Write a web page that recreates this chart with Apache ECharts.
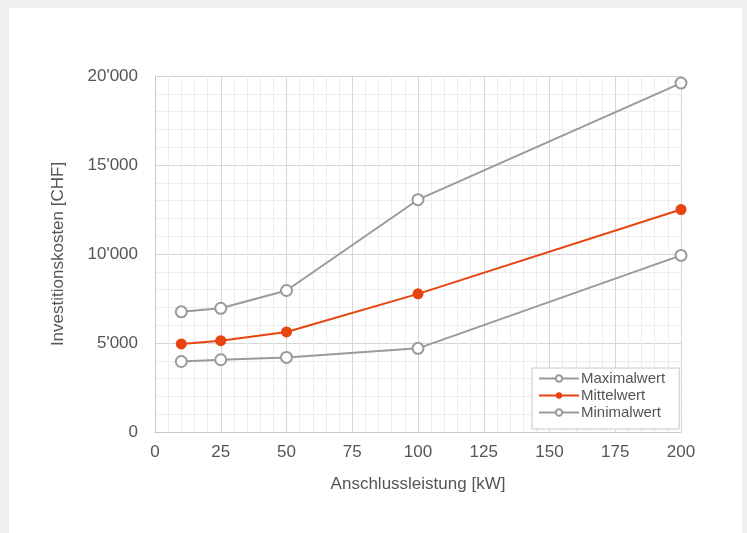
<!DOCTYPE html>
<html>
<head>
<meta charset="utf-8">
<script src="https://cdn.jsdelivr.net/npm/echarts@6/dist/echarts.min.js"></script>
<style>
html,body{margin:0;padding:0;background:#efefef;}
#chart{width:747px;height:533px;}
</style>
</head>
<body>
<div id="chart"></div>
<script>
const kw = [10, 25, 50, 100, 200];
const maximalwert = [6750, 6950, 7950, 13050, 19600];
const mittelwert = [4950, 5130, 5620, 7760, 12500];
const minimalwert = [3960, 4060, 4190, 4700, 9920];
const seriesNames = ['Maximalwert', 'Mittelwert', 'Minimalwert'];
const xTitle = 'Anschlussleistung [kW]';
const yTitle = 'Investitionskosten [CHF]';

function pairs(xs, ys) { return xs.map((x, i) => [x, ys[i]]); }
function fmt(v) { return String(v).replace(/\B(?=(\d{3})+(?!\d))/g, "'"); }

const chart = echarts.init(document.getElementById('chart'));
const font = 'Liberation Sans, Arial, sans-serif';
const gray = '#9a9a9a';
const orange = '#e8440f';

function lineSeries(name, data, color, filled) {
  return {
    name: name, type: 'line', data: data,
    symbol: 'circle', symbolSize: 11,
    lineStyle: { color: color, width: 2 },
    itemStyle: { color: filled ? color : '#fff', borderColor: color, borderWidth: filled ? 0 : 2 },
    emphasis: { disabled: true },
    z: filled ? 3 : 2
  };
}

chart.setOption({
  backgroundColor: '#efefef',
  animation: false,
  graphic: [{
    type: 'rect', z: -10, silent: true,
    shape: { x: 9, y: 8, width: 733, height: 530 },
    style: { fill: '#ffffff' }
  }],
  grid: { left: 155, right: 66, top: 76, bottom: 101 },
  xAxis: {
    type: 'value', min: 0, max: 200, interval: 25,
    name: xTitle, nameLocation: 'middle', nameGap: 44,
    nameTextStyle: { fontFamily: font, fontSize: 17, color: '#555' },
    axisLine: { show: true, lineStyle: { color: '#c8c8c8', width: 1 } },
    axisTick: { show: false },
    axisLabel: { fontFamily: font, fontSize: 17, color: '#555', margin: 12 },
    splitLine: { show: true, lineStyle: { color: '#d6d6d6', width: 1 } },
    minorTick: { show: false, splitNumber: 5 },
    minorSplitLine: { show: true, lineStyle: { color: '#ededed', width: 1 } }
  },
  yAxis: {
    type: 'value', min: 0, max: 20000, interval: 5000,
    name: yTitle, nameLocation: 'middle', nameGap: 88, nameRotate: 90,
    nameTextStyle: { fontFamily: font, fontSize: 17, color: '#555' },
    axisLine: { show: true, lineStyle: { color: '#c8c8c8', width: 1 } },
    axisTick: { show: false },
    axisLabel: { fontFamily: font, fontSize: 17, color: '#555', margin: 17, formatter: fmt },
    splitLine: { show: true, lineStyle: { color: '#d6d6d6', width: 1 } },
    minorTick: { show: false, splitNumber: 5 },
    minorSplitLine: { show: true, lineStyle: { color: '#ededed', width: 1 } }
  },
  legend: {
    orient: 'vertical', left: 532, top: 368,
    backgroundColor: '#fff', borderColor: '#c8c8c8', borderWidth: 1, borderRadius: 0,
    padding: [3, 14, 9, 6], itemGap: 2, itemWidth: 40, itemHeight: 8,
    textStyle: { fontFamily: font, fontSize: 15, color: '#555', padding: [0, 0, 0, -3] },
    data: seriesNames
  },
  series: [
    lineSeries(seriesNames[0], pairs(kw, maximalwert), gray, false),
    lineSeries(seriesNames[1], pairs(kw, mittelwert), orange, true),
    lineSeries(seriesNames[2], pairs(kw, minimalwert), gray, false)
  ]
});
</script>
</body>
</html>
